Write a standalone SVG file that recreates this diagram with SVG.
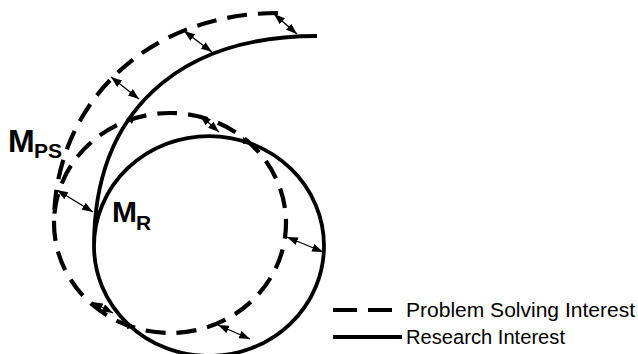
<svg xmlns="http://www.w3.org/2000/svg" width="638" height="354" viewBox="0 0 638 354">
<style>
.ps{fill:none;stroke:#000;stroke-width:4.2;stroke-dasharray:20 11}
.r{fill:none;stroke:#000;stroke-width:3.8}
.arr{fill:none;stroke:#000;stroke-width:1.3;marker-start:url(#ah);marker-end:url(#ah)}
.lbl{font-family:"Liberation Sans",Arial,sans-serif;font-weight:bold;fill:#000}
.leg{font-family:"Liberation Sans",Arial,sans-serif;font-size:20px;fill:#000}
</style>
<defs>
<marker id="ah" viewBox="0 0 11 8" refX="11" refY="4" markerWidth="11" markerHeight="8" markerUnits="userSpaceOnUse" orient="auto-start-reverse">
<path d="M0,0 L11,4 L0,8 z" fill="#000"/>
</marker>
</defs>
<g id="problem-solving-interest">
<path class="ps" d="M278,13 C148,13 54,103 54,223 A116,110 0 0 0 286,223 A116,110 0 0 0 54,223"/>
</g>
<g id="research-interest">
<path class="r" d="M317,36 C177,36 94,113 94,246 A115,110 0 0 0 324,246 A115,110 0 0 0 94,246"/>
</g>
<g id="connectors">
<line class="arr" x1="274" y1="14" x2="297" y2="34"/>
<line class="arr" x1="184" y1="31" x2="212" y2="52"/>
<line class="arr" x1="111" y1="77" x2="139" y2="99"/>
<line class="arr" x1="200" y1="115" x2="219" y2="132"/>
<line class="arr" x1="57" y1="190" x2="93" y2="212"/>
<line class="arr" x1="287" y1="237" x2="323" y2="252"/>
<line class="arr" x1="218" y1="325" x2="250" y2="339"/>
<line class="arr" x1="92" y1="302" x2="113" y2="313"/>
<path d="M127,118 L135,117 L132,124 z" fill="#000"/>
<path d="M251,142 L243,137 L243,144 z" fill="#000"/>
<path d="M135,327 L128,322 L127,329 z" fill="#000"/>
</g>
<g id="label-mps">
<text class="lbl" x="8" y="152" font-size="32">M</text>
<text class="lbl" x="34" y="158" font-size="21">PS</text>
</g>
<g id="label-mr">
<text class="lbl" x="112" y="222" font-size="30">M</text>
<text class="lbl" x="136" y="230" font-size="21">R</text>
</g>
<g id="legend">
<line x1="333" y1="310" x2="402" y2="310" stroke="#000" stroke-width="4.2" stroke-dasharray="24 11"/>
<text class="leg" x="406" y="317" textLength="229" lengthAdjust="spacingAndGlyphs">Problem Solving Interest</text>
<line x1="333" y1="337" x2="402" y2="337" stroke="#000" stroke-width="3.8"/>
<text class="leg" x="406" y="344" textLength="159" lengthAdjust="spacingAndGlyphs">Research Interest</text>
</g>
</svg>
